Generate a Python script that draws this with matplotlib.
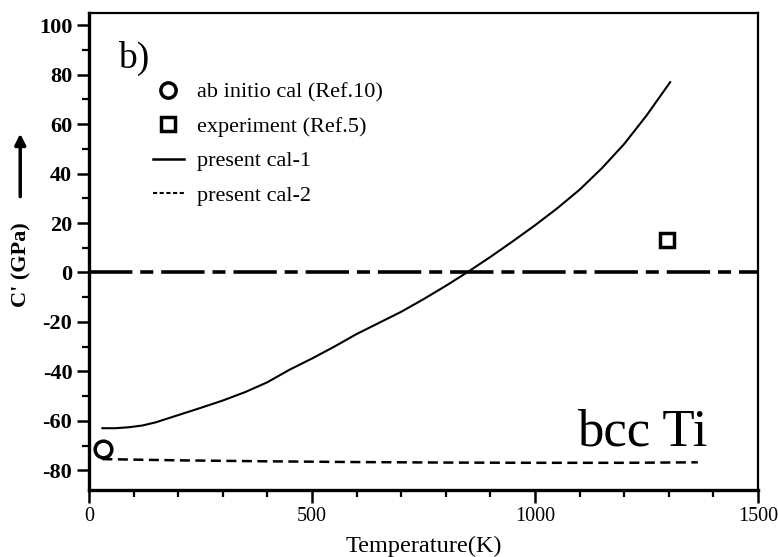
import matplotlib.pyplot as plt
from matplotlib.lines import Line2D
import numpy as np

plt.rcParams['font.family'] = ['Liberation Serif', 'DejaVu Serif']
plt.rcParams['axes.unicode_minus'] = False

# present cal-1 (solid)
cal1_T = [30, 60, 90, 120, 150, 200, 250, 300, 350, 400, 450, 500, 550, 600,
          650, 700, 750, 800, 850, 900, 950, 1000, 1050, 1100, 1150, 1200, 1250, 1303]
cal1_C = [-63.0, -63.0, -62.6, -61.9, -60.6, -57.7, -54.8, -51.8, -48.4, -44.4,
          -39.3, -34.8, -30.0, -24.9, -20.4, -15.9, -10.8, -5.4, 0.3, 6.3, 12.6,
          19.1, 26.0, 33.5, 42.2, 52.0, 63.5, 77.0]

# present cal-2 (dashed)
cal2_T = [30, 200, 400, 600, 800, 1000, 1200, 1365]
cal2_C = [-75.5, -76.0, -76.4, -76.7, -76.9, -77.0, -77.0, -76.8]

# reference points
abinit_T = [31]
abinit_C = [-71.5]
exp_T = [1296]
exp_C = [13.3]

zero_T = [0, 1500]
zero_C = [0, 0]

fig = plt.figure(figsize=(7.78, 5.57), dpi=100)
ax = fig.add_axes([0.1144, 0.1203, 0.8599, 0.8564])

ax.plot(zero_T, zero_C, color='black', lw=2.6, dashes=(12, 2.2, 3.6, 2.2))
ax.plot(cal1_T, cal1_C, color='black', lw=1.5)
ax.plot(cal2_T, cal2_C, color='black', lw=1.8, dashes=(4, 2.2))
ax.plot(abinit_T, abinit_C, 'o', ms=12, mfc='white', mec='black', mew=2.5)
ax.plot(exp_T, exp_C, 's', ms=10, mfc='white', mec='black', mew=2.5)

ax.set_xlim(0, 1500)
ax.set_ylim(-88, 105)
ax.set_xticks([0, 500, 1000, 1500])
ax.set_xticks(np.arange(0, 1501, 100), minor=True)
ax.set_yticks(np.arange(-80, 101, 20))
ax.set_yticks(np.arange(-80, 101, 10), minor=True)

for side in ['left', 'bottom']:
    ax.spines[side].set_linewidth(2.4)
for side in ['top', 'right']:
    ax.spines[side].set_linewidth(1.6)

ax.tick_params(which='major', direction='out', length=9, width=1.8)
ax.tick_params(which='minor', direction='out', length=5, width=1.6)
ax.tick_params(axis='x', labelsize=14.5)
ax.tick_params(axis='y', labelsize=16, pad=3)
for lab in ax.get_yticklabels():
    lab.set_fontweight('bold')

ax.set_xlabel('Temperature(K)', fontsize=17.5, labelpad=7)

fig.text(0.027, 0.525, "C' (GPa)", rotation=90, fontsize=16, fontweight='bold',
         ha='center', va='center')
ax.annotate('', xy=(0.026, 0.765), xytext=(0.026, 0.642),
            xycoords='figure fraction', textcoords='figure fraction',
            arrowprops=dict(arrowstyle='-|>', color='black', lw=2.5,
                            mutation_scale=16))

ax.text(0.044, 0.905, 'b)', transform=ax.transAxes, fontsize=27,
        ha='left', va='center')
ax.text(0.925, 0.12, 'bcc Ti', transform=ax.transAxes, fontsize=38,
        ha='right', va='center')

handles = [
    Line2D([], [], ls='none', marker='o', ms=11, mfc='white', mec='black', mew=2.5),
    Line2D([], [], ls='none', marker='s', ms=10, mfc='white', mec='black', mew=2.5),
    Line2D([], [], color='black', lw=1.8),
    Line2D([], [], color='black', lw=1.5, dashes=(2, 1.2)),
]
labels = ['ab initio cal (Ref.10)', 'experiment (Ref.5)', 'present cal-1', 'present cal-2']
ax.legend(handles, labels, loc='upper left', bbox_to_anchor=(0.095, 0.855),
          frameon=False, fontsize=16, handlelength=1.4, handletextpad=0.6,
          labelspacing=0.62, borderpad=0, borderaxespad=0)

fig.savefig('out.png', dpi=100)
